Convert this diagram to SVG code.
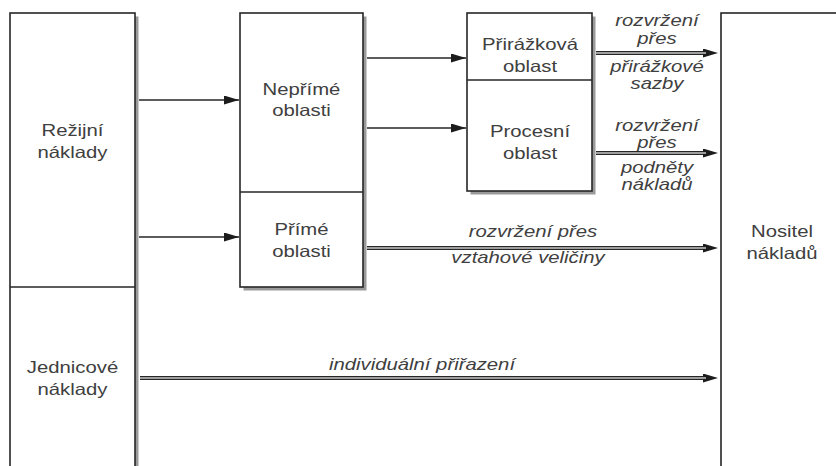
<svg xmlns="http://www.w3.org/2000/svg" width="836" height="466" viewBox="0 0 836 466">
  <style>
    .box { fill: #ffffff; stroke: #262626; stroke-width: 1.6; }
    .shadow { fill: #9a9a9a; }
    .div { stroke: #262626; stroke-width: 1.3; }
    .lbl { font-family: "Liberation Sans", Arial, sans-serif; font-size: 16.5px; fill: #404040; text-anchor: middle; }
    .it { font-style: italic; }
    .single { stroke: #262626; stroke-width: 1.5; fill: none; }
    .dbl-o { stroke: #262626; stroke-width: 4.2; fill: none; }
    .dbl-i { stroke: #c8c8c8; stroke-width: 1.4; fill: none; }
  </style>
  <defs>
    <marker id="head" markerUnits="userSpaceOnUse" markerWidth="16" markerHeight="10" refX="15" refY="4.5" orient="auto">
      <path d="M0,0 L15,4.5 L0,9 z" fill="#1c1c1c"/>
    </marker>
    <marker id="head2" markerUnits="userSpaceOnUse" markerWidth="16" markerHeight="10" refX="3" refY="4.5" orient="auto">
      <path d="M0,0 L15,4.5 L0,9 z" fill="#1c1c1c"/>
    </marker>
  </defs>
  <rect width="836" height="466" fill="#ffffff"/>

  <!-- cost types column -->
  <g id="rezijni-naklady">
    <rect class="shadow" x="13.5" y="16.5" width="125" height="470"/>
    <rect class="box" x="10" y="13" width="125" height="470"/>
    <line class="div" x1="10" y1="287" x2="135" y2="287"/>
    <text class="lbl" transform="matrix(1.23 0 0 1 72.5 136)">Režijní</text>
    <text class="lbl" transform="matrix(1.23 0 0 1 72.5 158)">náklady</text>
  </g>
  <g id="jednicove-naklady">
    <text class="lbl" transform="matrix(1.23 0 0 1 72.5 373)">Jednicové</text>
    <text class="lbl" transform="matrix(1.23 0 0 1 72.5 395)">náklady</text>
  </g>

  <!-- indirect / direct areas -->
  <g id="neprime-oblasti">
    <rect class="shadow" x="243.5" y="16.5" width="123" height="274"/>
    <rect class="box" x="240" y="13" width="123" height="274"/>
    <line class="div" x1="240" y1="192" x2="363" y2="192"/>
    <text class="lbl" transform="matrix(1.23 0 0 1 301.5 95)">Nepřímé</text>
    <text class="lbl" transform="matrix(1.23 0 0 1 301.5 116)">oblasti</text>
  </g>
  <g id="prime-oblasti">
    <text class="lbl" transform="matrix(1.23 0 0 1 301.5 235)">Přímé</text>
    <text class="lbl" transform="matrix(1.23 0 0 1 301.5 257)">oblasti</text>
  </g>

  <!-- surcharge / process areas -->
  <g id="prirazkova-oblast">
    <rect class="shadow" x="470.5" y="16.5" width="125" height="178"/>
    <rect class="box" x="467" y="13" width="125" height="178"/>
    <line class="div" x1="467" y1="80" x2="592" y2="80"/>
    <text class="lbl" transform="matrix(1.23 0 0 1 530 50)">Přirážková</text>
    <text class="lbl" transform="matrix(1.23 0 0 1 530 72)">oblast</text>
  </g>
  <g id="procesni-oblast">
    <text class="lbl" transform="matrix(1.23 0 0 1 530 137)">Procesní</text>
    <text class="lbl" transform="matrix(1.23 0 0 1 530 159)">oblast</text>
  </g>

  <!-- cost object -->
  <g id="nositel-nakladu">
    <rect class="shadow" x="724" y="16.5" width="130" height="470"/>
    <rect class="box" x="721" y="13" width="130" height="470"/>
    <text class="lbl" transform="matrix(1.23 0 0 1 782 237)">Nositel</text>
    <text class="lbl" transform="matrix(1.23 0 0 1 782 259)">nákladů</text>
  </g>

  <!-- connectors -->
  <g id="connectors">
    <line class="single" x1="139" y1="100" x2="239" y2="100" marker-end="url(#head)"/>
    <line class="single" x1="139" y1="237" x2="239" y2="237" marker-end="url(#head)"/>
    <line class="single" x1="367" y1="58" x2="466" y2="58" marker-end="url(#head)"/>
    <line class="single" x1="367" y1="128" x2="466" y2="128" marker-end="url(#head)"/>

    <line class="dbl-o" x1="596" y1="53" x2="706" y2="53" marker-end="url(#head2)"/>
    <line class="dbl-i" x1="596" y1="53" x2="706" y2="53"/>
    <line class="dbl-o" x1="596" y1="153" x2="706" y2="153" marker-end="url(#head2)"/>
    <line class="dbl-i" x1="596" y1="153" x2="706" y2="153"/>
    <line class="dbl-o" x1="367" y1="248" x2="706" y2="248" marker-end="url(#head2)"/>
    <line class="dbl-i" x1="367" y1="248" x2="706" y2="248"/>
    <line class="dbl-o" x1="140" y1="378" x2="706" y2="378" marker-end="url(#head2)"/>
    <line class="dbl-i" x1="140" y1="378" x2="706" y2="378"/>

    <text class="lbl it" transform="matrix(1.23 0 0 1 657 26)">rozvržení</text>
    <text class="lbl it" transform="matrix(1.23 0 0 1 657 44)">přes</text>
    <text class="lbl it" transform="matrix(1.23 0 0 1 657 72)">přirážkové</text>
    <text class="lbl it" transform="matrix(1.23 0 0 1 657 89)">sazby</text>

    <text class="lbl it" transform="matrix(1.23 0 0 1 657 131)">rozvržení</text>
    <text class="lbl it" transform="matrix(1.23 0 0 1 657 148)">přes</text>
    <text class="lbl it" transform="matrix(1.23 0 0 1 657 173)">podněty</text>
    <text class="lbl it" transform="matrix(1.23 0 0 1 657 190)">nákladů</text>

    <text class="lbl it" transform="matrix(1.23 0 0 1 533 237)">rozvržení přes</text>
    <text class="lbl it" transform="matrix(1.23 0 0 1 528 263)">vztahové veličiny</text>

    <text class="lbl it" transform="matrix(1.23 0 0 1 422 370)">individuální přiřazení</text>
  </g>
</svg>
